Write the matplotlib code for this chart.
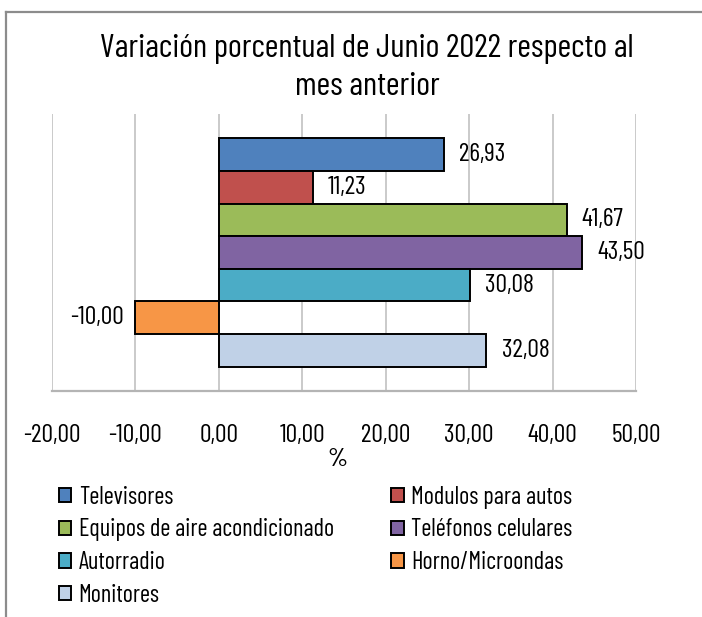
import matplotlib
matplotlib.use('Agg')
import matplotlib.pyplot as plt
from matplotlib.patches import Patch
from matplotlib.lines import Line2D

plt.rcParams['font.family'] = ['Barlow Condensed', 'DejaVu Sans']

categories = ['Televisores', 'Modulos para autos', 'Equipos de aire acondicionado',
              'Teléfonos celulares', 'Autorradio', 'Horno/Microondas', 'Monitores']
values = [26.93, 11.23, 41.67, 43.50, 30.08, -10.00, 32.08]
colors = ['#4F81BD', '#C0504D', '#9BBB59', '#8064A2', '#4BACC6', '#F79646', '#C0D1E7']
xticks = [-20, -10, 0, 10, 20, 30, 40, 50]

title = 'Variación porcentual de Junio 2022 respecto al\nmes anterior'


def fmt(v):
    return f'{v:.2f}'.replace('.', ',')


W, H = 702, 617
fig = plt.figure(figsize=(W / 100, H / 100), dpi=100)
ax = fig.add_axes([52 / W, 1 - 391 / H, (636 - 52) / W, (391 - 114) / H])

pos = list(range(len(values)))
ax.barh(pos, values, height=1.0, color=colors, edgecolor='black', linewidth=1.4, zorder=3)
ax.set_ylim(len(values) - 0.5 + 0.75, -0.5 - 0.75)
ax.set_xlim(xticks[0], xticks[-1])

for p, v in zip(pos, values):
    if v >= 0:
        ax.annotate(fmt(v), (v, p), xytext=(11, 0), textcoords='offset points',
                    ha='left', va='center', fontsize=18.5)
    else:
        ax.annotate(fmt(v), (v, p), xytext=(-8, 0), textcoords='offset points',
                    ha='right', va='center', fontsize=18.5)

ax.set_xticks(xticks)
ax.set_xticklabels([fmt(t) for t in xticks], fontsize=18.5)
ax.set_yticks([])
ax.tick_params(axis='x', length=0, pad=24)
ax.grid(axis='x', color='#C6C6C6', linewidth=1.3, zorder=0)
for s in ['top', 'left', 'right']:
    ax.spines[s].set_visible(False)
ax.spines['bottom'].set_color('#B4B4B4')
ax.spines['bottom'].set_linewidth(1.6)

ax.set_xlabel('%', fontsize=18.5, va='center', fontweight='medium')
ax.xaxis.set_label_coords((337 - 52) / (636 - 52), (391 - 459) / (391 - 114))

fig.text(367 / W, 1 - 68 / H, title, ha='center', va='center', fontsize=24,
         linespacing=1.32)

# legend, Excel lays it out row by row
handles = [Patch(facecolor=c, edgecolor='black', linewidth=1.4) for c in colors]
order = [0, 2, 4, 6, 1, 3, 5]
fig.legend([handles[i] for i in order], [categories[i] for i in order],
           ncol=2, loc='upper left', bbox_to_anchor=(49 / W, 1 - 476 / H),
           frameon=False, fontsize=17.5, handlelength=0.52, handleheight=0.52,
           handletextpad=0.3, labelspacing=0.4, columnspacing=2.35,
           borderaxespad=0)

# chart frame
fig.add_artist(Line2D([6 / W, 6 / W], [0, 1 - 12 / H], color='#8C8C8C', lw=1.6))
fig.add_artist(Line2D([6 / W, 1], [1 - 12 / H, 1 - 12 / H], color='#8C8C8C', lw=1.6))

fig.savefig('out.png', dpi=100)
